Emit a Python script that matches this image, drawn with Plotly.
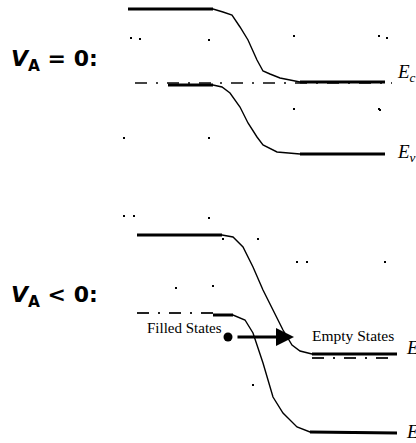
import plotly.graph_objects as go

# ---- data (band-diagram coordinates: x = position, y = energy, screen-like units, y downward) ----
# V_A = 0 panel
top_ec_x = [128, 213, 223, 232, 240, 248, 257, 263, 270, 280, 290, 300, 385]
top_ec_y = [9, 9, 12, 15, 27, 40, 60, 71, 74, 78, 80, 82, 82]
top_ev_x = [168, 213, 222, 230, 240, 248, 257, 263, 277, 290, 300, 385]
top_ev_y = [85, 85, 87, 93, 107, 123, 137, 145, 152, 153, 154, 154]
top_ef_x = [135, 392]
top_ef_y = [83, 83]

# V_A < 0 panel
bot_ec_x = [137, 222, 233, 243, 253, 263, 273, 283, 292, 300, 312, 397]
bot_ec_y = [235, 235, 237, 247, 267, 290, 310, 330, 345, 351, 354, 354]
bot_ev_x = [213, 233, 245, 253, 263, 273, 283, 297, 310, 397]
bot_ev_y = [315, 315, 320, 333, 363, 397, 413, 427, 432, 433]
bot_efp_x = [137, 222]
bot_efp_y = [313, 313]
bot_efn_x = [312, 397]
bot_efn_y = [358, 358]

# filled-state electron and tunnelling arrow
dot_x = [228]
dot_y = [337]
arrow_from = (236, 337)
arrow_to = (294, 337)

# stray specks present in the scan
speck_x = [131, 140, 209, 294, 379, 387, 294, 379, 124, 209, 124, 134, 209, 223, 258, 297, 307, 385, 176, 213, 253, 380]
speck_y = [38, 39, 40, 36, 36, 38, 109, 109, 138, 138, 216, 216, 218, 239, 239, 262, 262, 262, 288, 286, 385, 110]

BLACK = "#000000"
fig = go.Figure()


def band(xs, ys):
    # thin curve over whole path
    fig.add_trace(go.Scatter(x=xs, y=ys, mode="lines", line=dict(color=BLACK, width=1.4),
                             hoverinfo="skip", showlegend=False))
    # thick flat ends
    fig.add_trace(go.Scatter(x=xs[:2], y=ys[:2], mode="lines", line=dict(color=BLACK, width=3),
                             hoverinfo="skip", showlegend=False))
    fig.add_trace(go.Scatter(x=xs[-2:], y=ys[-2:], mode="lines", line=dict(color=BLACK, width=3),
                             hoverinfo="skip", showlegend=False))


def fermi(xs, ys, color="#222222"):
    fig.add_trace(go.Scatter(x=xs, y=ys, mode="lines",
                             line=dict(color=color, width=2, dash="12px,9px,2px,9px"),
                             hoverinfo="skip", showlegend=False))


fermi(top_ef_x, top_ef_y, "#444444")
band(top_ec_x, top_ec_y)
band(top_ev_x, top_ev_y)

fermi(bot_efp_x, bot_efp_y)
fermi(bot_efn_x, bot_efn_y)
band(bot_ec_x, bot_ec_y)
band(bot_ev_x, bot_ev_y)

fig.add_trace(go.Scatter(x=speck_x, y=speck_y, mode="markers",
                         marker=dict(symbol="square", size=2, color=BLACK, line=dict(width=0)),
                         hoverinfo="skip", showlegend=False))
fig.add_trace(go.Scatter(x=dot_x, y=dot_y, mode="markers",
                         marker=dict(size=9, color=BLACK, line=dict(width=0)),
                         hoverinfo="skip", showlegend=False))

fig.add_annotation(x=arrow_to[0], y=arrow_to[1], ax=arrow_from[0], ay=arrow_from[1],
                   xref="x", yref="y", axref="x", ayref="y", text="",
                   showarrow=True, arrowhead=2, arrowsize=1.2, arrowwidth=3, arrowcolor=BLACK)

sans = "DejaVu Sans, Arial, sans-serif"
serif = "Liberation Serif, Times New Roman, serif"

fig.add_annotation(x=9, y=60, xref="x", yref="y", xanchor="left", yanchor="middle",
                   text="<b><i>V</i><sub>A</sub> = 0:</b>", showarrow=False,
                   font=dict(family=sans, size=22, color=BLACK))
fig.add_annotation(x=9, y=296, xref="x", yref="y", xanchor="left", yanchor="middle",
                   text="<b><i>V</i><sub>A</sub> &lt; 0:</b>", showarrow=False,
                   font=dict(family=sans, size=22, color=BLACK))

fig.add_annotation(x=395, y=73, xref="x", yref="y", xanchor="left", yanchor="middle",
                   text="<i>E<sub>c</sub></i>", showarrow=False,
                   font=dict(family=serif, size=19, color=BLACK))
fig.add_annotation(x=395, y=153, xref="x", yref="y", xanchor="left", yanchor="middle",
                   text="<i>E<sub>v</sub></i>", showarrow=False,
                   font=dict(family=serif, size=19, color=BLACK))
fig.add_annotation(x=404, y=349, xref="x", yref="y", xanchor="left", yanchor="middle",
                   text="<i>E<sub>c</sub></i>", showarrow=False,
                   font=dict(family=serif, size=19, color=BLACK))
fig.add_annotation(x=404, y=433, xref="x", yref="y", xanchor="left", yanchor="middle",
                   text="<i>E<sub>v</sub></i>", showarrow=False,
                   font=dict(family=serif, size=19, color=BLACK))

fig.add_annotation(x=145, y=328, xref="x", yref="y", xanchor="left", yanchor="middle",
                   text="Filled States", showarrow=False,
                   font=dict(family=serif, size=15, color=BLACK))
fig.add_annotation(x=310, y=335, xref="x", yref="y", xanchor="left", yanchor="middle",
                   text="Empty States", showarrow=False,
                   font=dict(family=serif, size=15.5, color=BLACK))

fig.update_xaxes(range=[0, 416], visible=False, fixedrange=True)
fig.update_yaxes(range=[443, 0], visible=False, fixedrange=True)
fig.update_layout(width=416, height=443, margin=dict(l=0, r=0, t=0, b=0),
                  paper_bgcolor="white", plot_bgcolor="white", showlegend=False)

fig.write_html("out.html", config={"displayModeBar": False},
               post_script="document.body.style.margin='0';document.body.style.overflow='hidden';")
